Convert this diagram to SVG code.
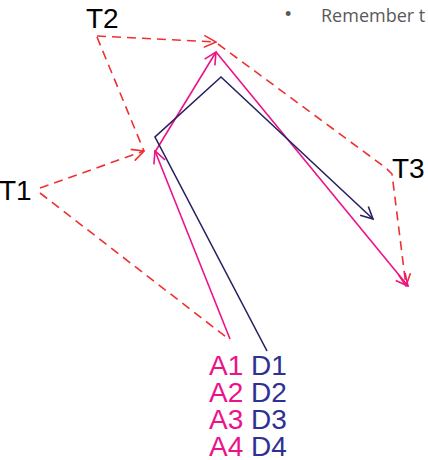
<svg xmlns="http://www.w3.org/2000/svg" width="428" height="460" viewBox="0 0 428 460">
<defs>
<style>
.lbl{font-family:"Liberation Sans",Arial,sans-serif;font-size:28px;fill:#000}
.a{fill:#EC128A}
.d{fill:#2E3192}
.red{fill:none;stroke:#F03030;stroke-width:1.6;stroke-dasharray:9 6}
.pink{fill:none;stroke:#EC128A;stroke-width:1.6}
.navy{fill:none;stroke:#262262;stroke-width:1.6}
.note{font-family:"Open Sans","Liberation Sans",sans-serif;font-size:18px;fill:#595959}
.bullet{font-family:"Liberation Sans",Arial,sans-serif;font-size:18px;fill:#595959}
</style>
<marker id="mRed" viewBox="0 0 14 14" refX="13" refY="7" markerWidth="14" markerHeight="14" markerUnits="userSpaceOnUse" orient="auto">
<path d="M1,1 L13,7 L1,13" fill="none" stroke="#F03030" stroke-width="1.6"/>
</marker>
<marker id="mPink" viewBox="0 0 14 14" refX="13" refY="7" markerWidth="14" markerHeight="14" markerUnits="userSpaceOnUse" orient="auto">
<path d="M1,1 L13,7 L1,13" fill="none" stroke="#EC128A" stroke-width="1.6"/>
</marker>
<marker id="mNavy" viewBox="0 0 14 14" refX="13" refY="7" markerWidth="14" markerHeight="14" markerUnits="userSpaceOnUse" orient="auto">
<path d="M1,1 L13,7 L1,13" fill="none" stroke="#262262" stroke-width="1.6"/>
</marker>
</defs>
<rect width="428" height="460" fill="#fff"/>
<g id="note">
<text class="bullet" x="285" y="20">•</text>
<text class="note" x="321" y="22">Remember t</text>
</g>
<g id="connectors">
<path class="red" d="M97,36 L216,42" marker-end="url(#mRed)"/>
<path class="red" d="M97,37 L144,151"/>
<path class="red" d="M40,188 L144,151" marker-end="url(#mRed)"/>
<path class="red" d="M40,193 L230,340"/>
<path class="red" d="M218,44 L386,168 L392,174 L406,286" marker-end="url(#mRed)"/>
<path class="pink" d="M230,339 L155,151" marker-end="url(#mPink)"/>
<path class="pink" d="M155,152 L216,52" marker-end="url(#mPink)"/>
<path class="pink" d="M216,52 L408,286" marker-end="url(#mPink)"/>
<path class="navy" d="M267,351 L155,137 L221,77 L373,219" marker-end="url(#mNavy)"/>
</g>
<g id="T2"><text class="lbl" x="86" y="28">T2</text></g>
<g id="T1"><text class="lbl" x="-1" y="200">T1</text></g>
<g id="T3"><text class="lbl" x="392" y="178">T3</text></g>
<g id="legend">
<text class="lbl" x="209" y="375"><tspan class="a">A1</tspan> <tspan class="d">D1</tspan></text>
<text class="lbl" x="209" y="402"><tspan class="a">A2</tspan> <tspan class="d">D2</tspan></text>
<text class="lbl" x="209" y="429"><tspan class="a">A3</tspan> <tspan class="d">D3</tspan></text>
<text class="lbl" x="209" y="456"><tspan class="a">A4</tspan> <tspan class="d">D4</tspan></text>
</g>
</svg>
